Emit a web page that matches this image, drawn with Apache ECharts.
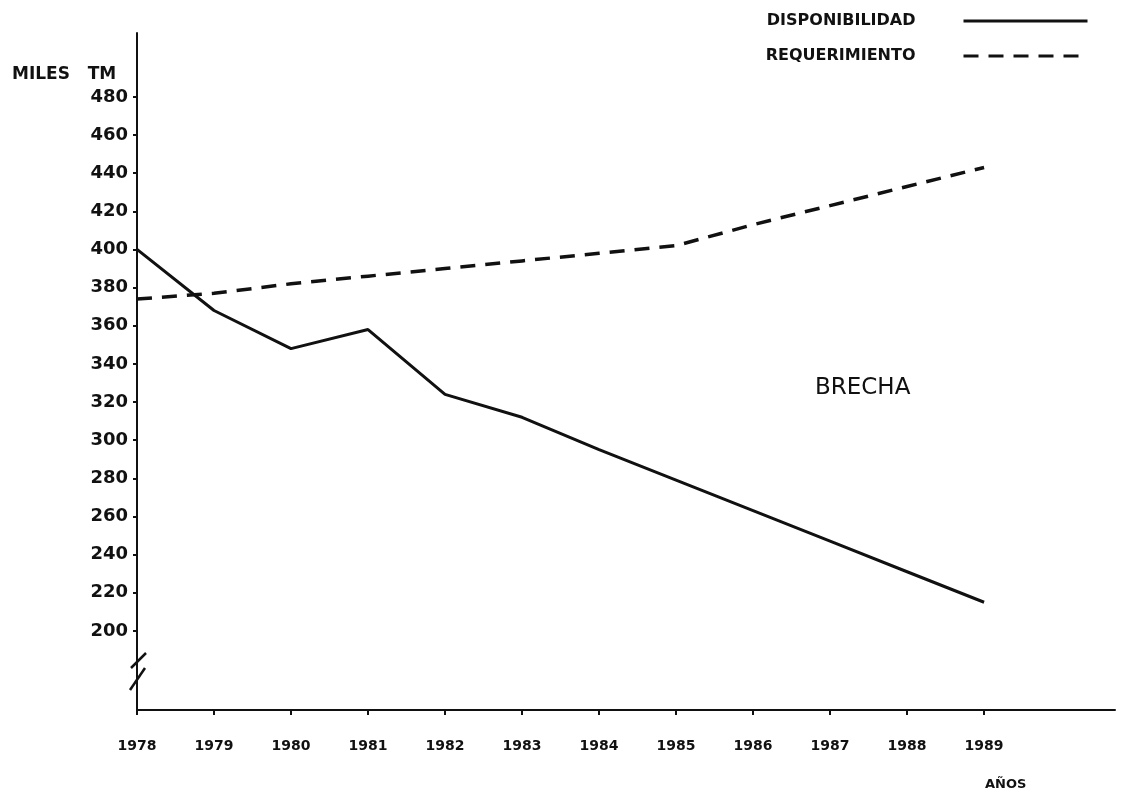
<!DOCTYPE html>
<html>
<head>
<meta charset="utf-8">
<script src="https://cdn.jsdelivr.net/npm/echarts@6/dist/echarts.min.js"></script>
<style>
  html, body { margin: 0; padding: 0; background: #fff; }
  #chart { width: 1121px; height: 796px; }
</style>
</head>
<body>
<div id="chart"></div>
<script>
const years = [1978, 1979, 1980, 1981, 1982, 1983, 1984, 1985, 1986, 1987, 1988, 1989];
const disponibilidad = [400, 368, 348, 358, 324, 312, 295, 279, 263, 247, 231, 215];
const requerimiento = [374, 377, 382, 386, 390, 394, 398, 402, 413, 423, 433, 443];
const yTicks = [200, 220, 240, 260, 280, 300, 320, 340, 360, 380, 400, 420, 440, 460, 480];

const font = 'DejaVu Sans';
const ink = '#111';

const chart = echarts.init(document.getElementById('chart'));

chart.setOption({
  backgroundColor: '#fff',
  animation: false,
  grid: { left: 137, right: 6, top: 33, bottom: 86 },
  legend: {
    right: 27,
    top: 8,
    orient: 'vertical',
    align: 'right',
    itemWidth: 124,
    itemHeight: 14,
    itemGap: 19,
    itemStyle: { color: 'transparent', borderWidth: 0, opacity: 0 },
    lineStyle: { width: 3 },
    textStyle: { color: ink, fontFamily: font, fontWeight: 'bold', fontSize: 16, padding: [0, 43, 0, 0] },
    data: ['DISPONIBILIDAD', 'REQUERIMIENTO']
  },
  xAxis: {
    type: 'value',
    min: 1978,
    max: 1990.7,
    axisLine: { onZero: false, lineStyle: { color: ink, width: 2 } },
    axisTick: { customValues: years, length: 5, inside: false, lineStyle: { color: ink, width: 2 } },
    axisLabel: {
      customValues: years,
      margin: 29,
      color: ink,
      fontFamily: font,
      fontWeight: 'bold',
      fontSize: 14,
      formatter: v => String(v)
    },
    splitLine: { show: false }
  },
  yAxis: {
    type: 'value',
    min: 158.5,
    max: 513.5,
    axisLine: { show: true, onZero: false, lineStyle: { color: ink, width: 2 } },
    axisTick: { customValues: yTicks, length: 4, lineStyle: { color: ink, width: 2 } },
    axisLabel: {
      customValues: yTicks,
      margin: 9,
      color: ink,
      fontFamily: font,
      fontWeight: 'bold',
      fontSize: 18
    },
    splitLine: { show: false }
  },
  series: [
    {
      name: 'DISPONIBILIDAD',
      type: 'line',
      data: years.map((y, i) => [y, disponibilidad[i]]),
      symbol: 'none',
      lineStyle: { color: ink, width: 3 },
      itemStyle: { color: ink }
    },
    {
      name: 'REQUERIMIENTO',
      type: 'line',
      data: years.map((y, i) => [y, requerimiento[i]]),
      symbol: 'none',
      lineStyle: { color: ink, width: 3.5, type: [15, 10] },
      itemStyle: { color: ink }
    }
  ],
  graphic: [
    {
      type: 'text', left: 12, top: 66,
      style: { text: 'MILES   TM', fill: ink, font: 'bold 17px "DejaVu Sans"' }
    },
    {
      type: 'text', left: 815, top: 377,
      style: { text: 'BRECHA', fill: ink, font: '500 23px "DejaVu Sans"' }
    },
    {
      type: 'text', left: 985, top: 778,
      style: { text: 'AÑOS', fill: ink, font: 'bold 13px "DejaVu Sans"' }
    },
    // axis break marks
    {
      type: 'line', shape: { x1: 131, y1: 668, x2: 146, y2: 653 },
      style: { stroke: ink, lineWidth: 2.5 }
    },
    {
      type: 'line', shape: { x1: 130, y1: 690, x2: 145, y2: 668 },
      style: { stroke: ink, lineWidth: 2.5 }
    }
  ]
});

window.addEventListener('resize', () => chart.resize());
</script>
</body>
</html>
